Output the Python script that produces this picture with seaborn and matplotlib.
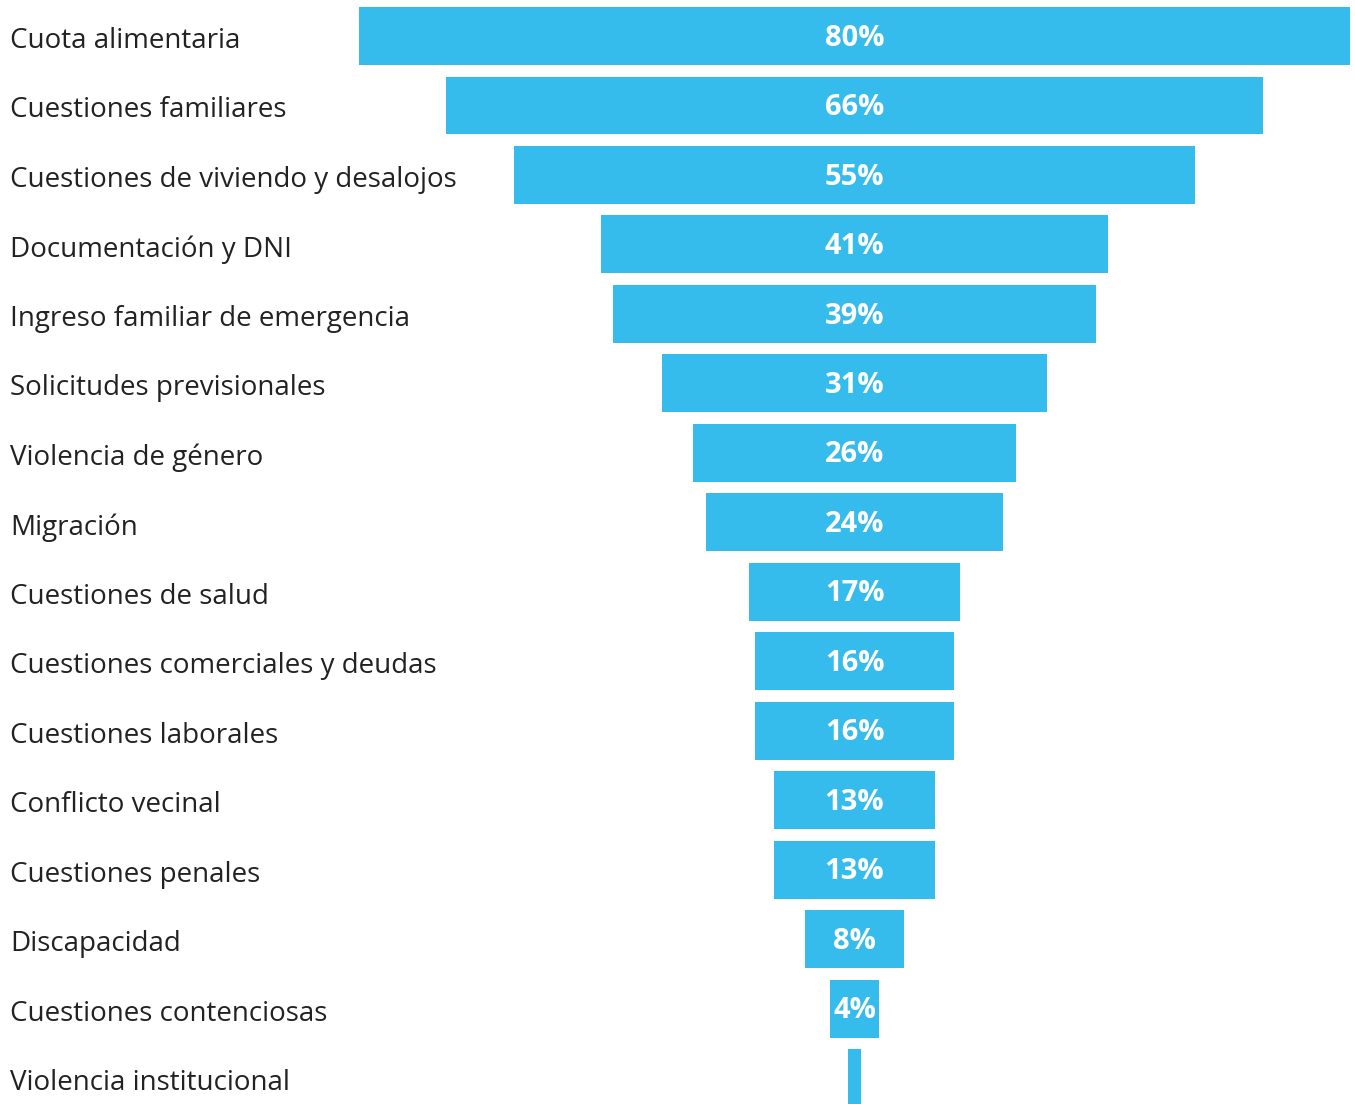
import matplotlib
matplotlib.use("Agg")
import matplotlib.pyplot as plt
import matplotlib.transforms as mtransforms
import seaborn as sns
import pandas as pd

categories = [
    "Cuota alimentaria",
    "Cuestiones familiares",
    "Cuestiones de viviendo y desalojos",
    "Documentación y DNI",
    "Ingreso familiar de emergencia",
    "Solicitudes previsionales",
    "Violencia de género",
    "Migración",
    "Cuestiones de salud",
    "Cuestiones comerciales y deudas",
    "Cuestiones laborales",
    "Conflicto vecinal",
    "Cuestiones penales",
    "Discapacidad",
    "Cuestiones contenciosas",
    "Violencia institucional",
]
values = [80, 66, 55, 41, 39, 31, 26, 24, 17, 16, 16, 13, 13, 8, 4, 1]
value_labels = ["80%", "66%", "55%", "41%", "39%", "31%", "26%", "24%",
                "17%", "16%", "16%", "13%", "13%", "8%", "4%", ""]

df = pd.DataFrame({"cat": categories, "val": values})

sns.set_style("white")
plt.rcParams["font.family"] = ["Open Sans", "DejaVu Sans"]

bar_color = "#36BCEC"

fig = plt.figure(figsize=(13.55, 11.04), dpi=100)
ax = fig.add_axes([359 / 1355, 0, (1350 - 359) / 1355, 1])

sns.barplot(data=df, x="val", y="cat", orient="h", color=bar_color,
            saturation=1, width=0.834, ax=ax)

# centre each bar to get the funnel shape
for p in ax.patches:
    p.set_x(-p.get_width() / 2)
    p.set_linewidth(0)

ax.set_xlim(-40, 40)
ax.set_ylim(15.37, -0.518)
ax.axis("off")

for p, lab in zip(ax.patches, value_labels):
    if not lab:
        continue
    yc = p.get_y() + p.get_height() / 2
    t = ax.text(0, yc + 0.03, lab, ha="center", va="center", color="white",
                fontsize=21, fontweight="bold")
    t.set_clip_path(p)

trans = mtransforms.blended_transform_factory(fig.transFigure, ax.transData)
for i, cat in enumerate(categories):
    ax.text(10 / 1355, i + 0.07, cat, transform=trans, ha="left", va="center",
            fontsize=20, color="#222222")

fig.savefig("out.png", dpi=100)
